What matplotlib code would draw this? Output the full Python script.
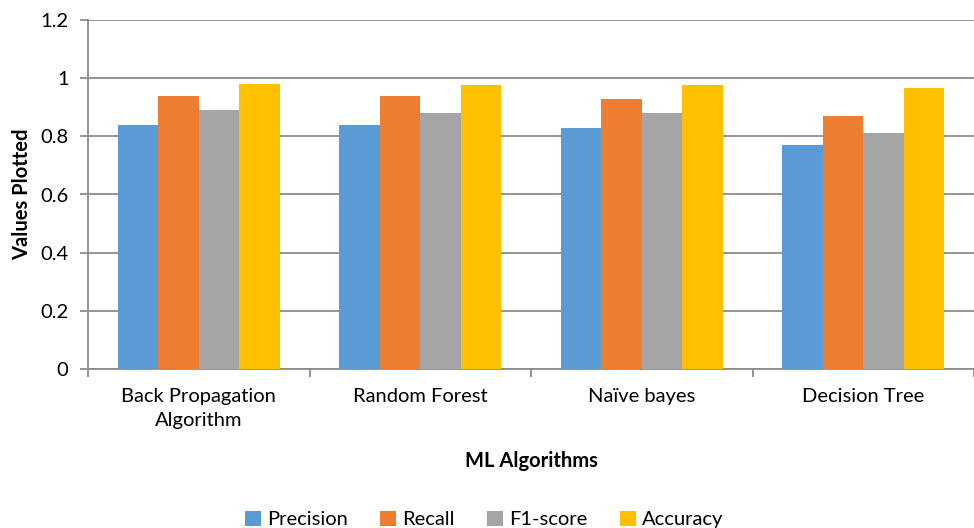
import numpy as np
import matplotlib.pyplot as plt

# chart data
algorithms = ["Back Propagation\nAlgorithm", "Random Forest", "Naïve bayes", "Decision Tree"]
precision = [0.84, 0.84, 0.83, 0.77]
recall = [0.94, 0.94, 0.93, 0.87]
f1_score = [0.89, 0.88, 0.88, 0.81]
accuracy = [0.98, 0.978, 0.977, 0.965]

series = [("Precision", precision, "#5B9BD5"),
          ("Recall", recall, "#ED7D31"),
          ("F1-score", f1_score, "#A5A5A5"),
          ("Accuracy", accuracy, "#FFC000")]

plt.rcParams['font.family'] = ['Lato', 'DejaVu Sans']
fs = 14.5

fig = plt.figure(figsize=(9.74, 5.28), dpi=100)
ax = fig.add_axes([88 / 974, 1 - 369 / 528, 886 / 974, 349 / 528])

x = np.arange(len(algorithms))
width = 0.183
for i, (name, vals, col) in enumerate(series):
    ax.bar(x + (i - 1.5) * width, vals, width, color=col, label=name, zorder=3)

ax.set_xlim(-0.5, len(algorithms) - 0.5)
ax.set_ylim(0, 1.2)
ax.set_yticks(np.arange(0, 1.21, 0.2))
ax.set_yticklabels(["0", "0.2", "0.4", "0.6", "0.8", "1", "1.2"])
ax.yaxis.grid(True, color="#8C8C8C", linewidth=1.3, zorder=0)

ax.set_xticks(x)
ax.set_xticklabels(algorithms, fontsize=fs, linespacing=1.45)
ax.set_xticks(np.arange(-0.5, len(algorithms), 1), minor=True)
ax.tick_params(axis="x", which="major", length=0, pad=14)
ax.tick_params(axis="x", which="minor", length=6, color="#8C8C8C", width=1.3)
ax.tick_params(axis="y", length=6, color="#8C8C8C", width=1.3, labelsize=fs, pad=8)

for s in ["top", "right"]:
    ax.spines[s].set_visible(False)
for s in ["left", "bottom"]:
    ax.spines[s].set_color("#8C8C8C")
    ax.spines[s].set_linewidth(1.3)

ax.set_xlabel("ML Algorithms", fontsize=fs, fontweight="bold", labelpad=16)
ax.set_ylabel("Values Plotted", fontsize=fs, fontweight="bold", labelpad=6)

fig.legend(loc="lower center", ncol=4, frameon=False, fontsize=fs,
           bbox_to_anchor=(0.497, -0.035), handlelength=0.8, handleheight=0.8,
           handletextpad=0.3, columnspacing=1.6)

fig.savefig("out.png", dpi=100)
